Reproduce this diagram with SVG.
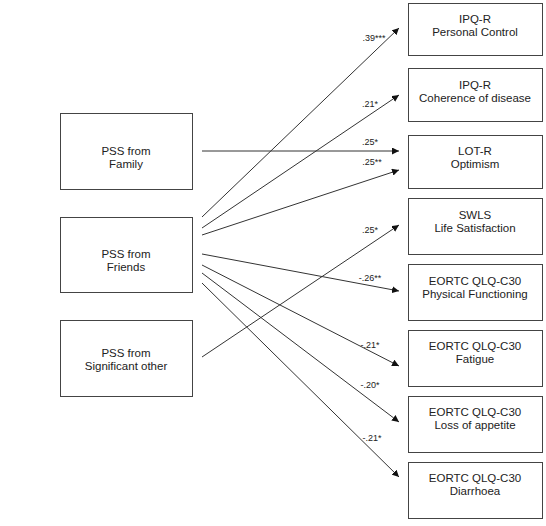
<svg xmlns="http://www.w3.org/2000/svg" width="546" height="526" viewBox="0 0 546 526">
<defs>
<marker id="ah" viewBox="0 0 10 10" refX="10" refY="5" markerWidth="7" markerHeight="7" markerUnits="userSpaceOnUse" orient="auto">
<path d="M0,0 L10,5 L0,10 z" fill="#111"/>
</marker>
<style>
.box{fill:#fff;stroke:#444;stroke-width:1}
.t{font-family:"Liberation Sans",Arial,sans-serif;font-size:11.5px;fill:#222;text-anchor:middle}
.lbl{font-family:"Liberation Sans",Arial,sans-serif;font-size:9px;fill:#222;text-anchor:middle}
.c{stroke:#333;stroke-width:1;fill:none;marker-end:url(#ah)}
</style>
</defs>
<rect width="546" height="526" fill="#fff"/>
<g id="family"><rect class="box" x="60.5" y="113.5" width="132" height="76"/><text class="t" x="126" y="155">PSS from</text><text class="t" x="126" y="168">Family</text></g>
<g id="friends"><rect class="box" x="60.5" y="217.5" width="132" height="75"/><text class="t" x="126" y="258">PSS from</text><text class="t" x="126" y="271">Friends</text></g>
<g id="significant"><rect class="box" x="60.5" y="320.5" width="132" height="76"/><text class="t" x="126" y="357">PSS from</text><text class="t" x="126" y="370">Significant other</text></g>
<g id="ipq-pc"><rect class="box" x="408.5" y="3.5" width="134" height="52"/><text class="t" x="475" y="23">IPQ-R</text><text class="t" x="475" y="36">Personal Control</text></g>
<g id="ipq-coh"><rect class="box" x="408.5" y="68.5" width="134" height="53"/><text class="t" x="475" y="89">IPQ-R</text><text class="t" x="475" y="102">Coherence of disease</text></g>
<g id="lot"><rect class="box" x="408.5" y="135.5" width="134" height="53"/><text class="t" x="475" y="155">LOT-R</text><text class="t" x="475" y="168">Optimism</text></g>
<g id="swls"><rect class="box" x="408.5" y="198.5" width="134" height="56"/><text class="t" x="475" y="219">SWLS</text><text class="t" x="475" y="232">Life Satisfaction</text></g>
<g id="pf"><rect class="box" x="408.5" y="264.5" width="134" height="56"/><text class="t" x="475" y="285">EORTC QLQ-C30</text><text class="t" x="475" y="298">Physical Functioning</text></g>
<g id="fa"><rect class="box" x="408.5" y="330.5" width="134" height="56"/><text class="t" x="475" y="350">EORTC QLQ-C30</text><text class="t" x="475" y="363">Fatigue</text></g>
<g id="ap"><rect class="box" x="408.5" y="396.5" width="134" height="56"/><text class="t" x="475" y="416">EORTC QLQ-C30</text><text class="t" x="475" y="429">Loss of appetite</text></g>
<g id="di"><rect class="box" x="408.5" y="462.5" width="134" height="56"/><text class="t" x="475" y="482">EORTC QLQ-C30</text><text class="t" x="475" y="495">Diarrhoea</text></g>
<g id="connectors">
<line class="c" x1="202" y1="217" x2="399" y2="28"/>
<line class="c" x1="202" y1="228" x2="399" y2="95"/>
<line class="c" x1="202" y1="151" x2="399" y2="151"/>
<line class="c" x1="202" y1="235" x2="399" y2="170"/>
<line class="c" x1="202" y1="357" x2="399" y2="225"/>
<line class="c" x1="202" y1="254" x2="399" y2="291"/>
<line class="c" x1="202" y1="265" x2="399" y2="366"/>
<line class="c" x1="202" y1="273" x2="399" y2="422"/>
<line class="c" x1="202" y1="283" x2="399" y2="477"/>
<text class="lbl" x="374" y="41">.39***</text>
<text class="lbl" x="370" y="107">.21*</text>
<text class="lbl" x="370" y="145">.25*</text>
<text class="lbl" x="372" y="165">.25**</text>
<text class="lbl" x="370" y="233">.25*</text>
<text class="lbl" x="370" y="281">-.26**</text>
<text class="lbl" x="370" y="348">-.21*</text>
<text class="lbl" x="370" y="388">-.20*</text>
<text class="lbl" x="372" y="441">-.21*</text>
</g>
</svg>
